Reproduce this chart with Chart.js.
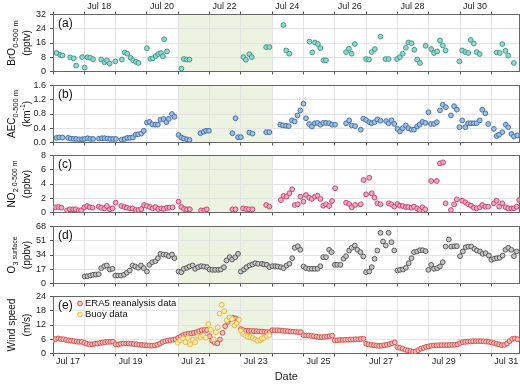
<!DOCTYPE html>
<html>
<head>
<meta charset="utf-8">
<title>Jul 17 - Jul 31 time series</title>
<script src="https://cdn.jsdelivr.net/npm/chart.js@4.4.1/dist/chart.umd.min.js"></script>
<style>
  body { margin: 0; background: #fff; }
  #wrap { position: relative; width: 520px; height: 384px; }
  #wrap canvas { position: absolute; left: 0; top: 0; }
</style>
</head>
<body>
<div id="wrap">
  <canvas id="panelA" width="520" height="384"></canvas>
  <canvas id="panelB" width="520" height="384"></canvas>
  <canvas id="panelC" width="520" height="384"></canvas>
  <canvas id="panelD" width="520" height="384"></canvas>
  <canvas id="panelE" width="520" height="384"></canvas>
</div>
<script>
// x axis: days since Jul 17 00:00, one tick per day
const dayLabels = ['Jul 17', 'Jul 18', 'Jul 19', 'Jul 20', 'Jul 21', 'Jul 22', 'Jul 23', 'Jul 24',
  'Jul 25', 'Jul 26', 'Jul 27', 'Jul 28', 'Jul 29', 'Jul 30', 'Jul 31'];
const dayTicks = [0, 1, 2, 3, 4, 5, 6, 7, 8, 9, 10, 11, 12, 13, 14];
const dayMax = 14.9;
const shadedDays = [4, 7]; // Jul 21 - Jul 24

const broTicks = [0, 8, 16, 24, 32];
const aecTicks = [0, 0.4, 0.8, 1.2, 1.6];
const no2Ticks = [0, 2, 4, 6, 8];
const o3Ticks = [0, 17, 34, 51, 68];
const windTicks = [0, 6, 12, 18, 24];

// [day, value]
const broData = [
  [0.11, 10.4], [0.23, 9.3], [0.30, 9.0], [0.55, 7.9], [0.66, 7.4], [0.74, 3.3], [0.93, 8.1], [1.01, 2.2],
  [1.10, 8.0], [1.19, 7.7], [1.28, 6.9], [1.54, 6.7], [1.64, 5.2], [1.72, 6.3], [1.81, 4.4], [1.99, 5.7],
  [2.20, 6.7], [2.29, 10.7], [2.37, 10.0], [2.48, 7.6], [2.56, 6.3], [2.65, 5.4], [2.73, 4.8], [3.00, 13.1],
  [3.11, 7.1], [3.19, 7.4], [3.28, 8.7], [3.36, 9.8], [3.45, 10.4], [3.51, 8.6], [3.55, 18.1], [3.64, 11.3],
  [4.10, 1.7], [4.18, 7.0], [4.28, 6.7], [4.36, 6.7], [6.08, 8.1], [6.16, 6.6], [6.27, 9.7], [6.35, 8.1],
  [6.81, 13.7], [6.91, 13.7], [7.36, 26.1], [7.45, 11.8], [7.55, 10.0], [8.19, 16.8], [8.28, 10.7], [8.37, 16.3],
  [8.46, 15.4], [8.54, 13.1], [8.64, 6.3], [8.72, 6.3], [9.36, 10.9], [9.45, 12.8], [9.54, 10.0], [9.64, 15.4],
  [10.00, 7.0], [10.09, 6.7], [10.18, 10.9], [10.28, 12.6], [10.46, 19.6], [10.62, 7.0], [10.72, 7.0], [10.99, 7.0],
  [11.08, 8.1], [11.17, 10.0], [11.27, 13.3], [11.35, 16.3], [11.45, 15.9], [11.54, 12.2], [11.63, 6.7], [11.72, 4.8],
  [11.90, 14.4], [12.08, 12.6], [12.17, 10.4], [12.27, 11.3], [12.36, 17.4], [12.45, 14.6], [12.54, 11.8], [12.98, 5.7],
  [13.07, 11.8], [13.17, 10.9], [13.26, 10.4], [13.34, 17.7], [13.44, 15.7], [13.53, 10.9], [13.63, 9.8], [14.17, 10.7],
  [14.27, 10.4], [14.35, 15.4], [14.45, 11.6], [14.54, 8.9], [14.72, 4.8]
];

const aecData = [
  [0.11, 0.13], [0.20, 0.14], [0.30, 0.14], [0.48, 0.13], [0.57, 0.11], [0.66, 0.10], [0.74, 0.10], [0.84, 0.09],
  [0.93, 0.09], [1.01, 0.10], [1.10, 0.12], [1.19, 0.10], [1.28, 0.10], [1.47, 0.11], [1.56, 0.12], [1.65, 0.12],
  [1.74, 0.11], [1.83, 0.10], [1.92, 0.10], [2.01, 0.10], [2.19, 0.08], [2.29, 0.10], [2.37, 0.13], [2.46, 0.13],
  [2.55, 0.14], [2.64, 0.22], [2.72, 0.23], [2.82, 0.25], [2.90, 0.33], [3.00, 0.56], [3.08, 0.58], [3.17, 0.51],
  [3.27, 0.50], [3.35, 0.50], [3.43, 0.64], [3.53, 0.66], [3.62, 0.57], [3.70, 0.66], [3.80, 0.80], [3.88, 0.72],
  [4.01, 0.21], [4.10, 0.14], [4.18, 0.11], [4.28, 0.09], [4.36, 0.07], [4.71, 0.26], [4.81, 0.30], [4.89, 0.33],
  [4.98, 0.33], [5.73, 0.26], [5.83, 0.68], [5.91, 0.15], [6.00, 0.15], [6.27, 0.28], [6.37, 0.25],
  [6.81, 0.29], [6.91, 0.29], [7.26, 0.50], [7.34, 0.48], [7.44, 0.47], [7.53, 0.46], [7.63, 0.62], [7.72, 0.59],
  [7.81, 0.76], [7.90, 0.90], [8.00, 1.09], [8.08, 0.68], [8.18, 0.52], [8.27, 0.45], [8.36, 0.54], [8.45, 0.55],
  [8.54, 0.50], [8.63, 0.55], [8.72, 0.55], [8.82, 0.54], [8.91, 0.50], [9.01, 0.50], [9.36, 0.54], [9.46, 0.62],
  [9.54, 0.48], [9.65, 0.46], [9.83, 0.36], [9.91, 0.67], [10.00, 0.63], [10.10, 0.57], [10.18, 0.54], [10.27, 0.57],
  [10.36, 0.65], [10.46, 0.61], [10.64, 0.60], [10.72, 0.54], [10.81, 0.62], [10.90, 0.52], [11.00, 0.38], [11.08, 0.31],
  [11.17, 0.40], [11.27, 0.48], [11.35, 0.40], [11.45, 0.36], [11.53, 0.36], [11.63, 0.45], [11.71, 0.50], [11.80, 0.58],
  [11.89, 0.55], [11.99, 0.85], [12.07, 0.52], [12.17, 0.52], [12.26, 0.57], [12.36, 0.90], [12.45, 1.06], [12.55, 0.99],
  [12.71, 0.76], [12.81, 1.02], [12.90, 0.92], [12.98, 0.43], [13.07, 0.62], [13.17, 0.43], [13.26, 0.54], [13.35, 0.54],
  [13.44, 0.54], [13.53, 0.54], [13.63, 0.62], [13.71, 0.92], [13.81, 0.82], [13.90, 0.52], [14.08, 0.38], [14.17, 0.18],
  [14.25, 0.22], [14.35, 0.29], [14.46, 0.50], [14.54, 0.43], [14.64, 0.24], [14.72, 0.17], [14.83, 0.20]
];

const no2Data = [
  [0.07, 0.73], [0.17, 0.77], [0.27, 0.67], [0.45, 0.30], [0.54, 0.45], [0.64, 0.45], [0.72, 0.45], [0.82, 0.30],
  [0.90, 0.30], [1.00, 0.73], [1.09, 0.91], [1.17, 0.73], [1.26, 0.67], [1.46, 0.82], [1.54, 0.67], [1.64, 0.58],
  [1.72, 0.91], [1.82, 0.45], [1.90, 0.58], [2.00, 1.38], [2.18, 0.91], [2.28, 0.77], [2.36, 0.67], [2.46, 0.58],
  [2.54, 0.58], [2.64, 0.35], [2.73, 0.35], [2.82, 0.49], [2.91, 1.05], [3.00, 0.91], [3.10, 0.77], [3.18, 0.58],
  [3.27, 0.77], [3.36, 0.49], [3.46, 0.58], [3.54, 0.49], [3.64, 0.67], [3.72, 0.67], [3.82, 0.73], [4.01, 1.52],
  [4.10, 0.77], [4.19, 0.49], [4.28, 0.45], [4.37, 0.45], [4.73, 0.30], [4.83, 0.30], [4.91, 0.45], [5.73, 0.45],
  [5.83, 0.45], [6.07, 0.58], [6.17, 0.49], [6.26, 0.45], [6.37, 0.45],
  [6.81, 1.05], [6.91, 0.82], [7.28, 1.75], [7.36, 2.32], [7.46, 2.22], [7.55, 2.70], [7.64, 3.26], [7.72, 1.05],
  [7.82, 1.15], [7.90, 2.22], [8.00, 1.52], [8.08, 2.46], [8.18, 2.08], [8.27, 1.90], [8.36, 2.22], [8.45, 2.36],
  [8.54, 1.90], [8.63, 0.95], [8.72, 1.15], [8.82, 0.91], [8.91, 1.61], [9.01, 3.40], [9.36, 1.38], [9.46, 1.19],
  [9.54, 0.73], [9.65, 1.05], [9.83, 1.15], [9.92, 4.56], [10.00, 2.55], [10.10, 4.88], [10.18, 2.70], [10.27, 2.08],
  [10.36, 1.29], [10.46, 1.15], [10.72, 1.29], [10.81, 1.15], [10.90, 0.82], [11.00, 1.19], [11.08, 0.95], [11.17, 0.91],
  [11.27, 0.77], [11.35, 0.77], [11.45, 0.67], [11.53, 0.82], [11.63, 0.58], [11.71, 0.35], [11.80, 0.73], [11.89, 0.45],
  [12.08, 4.42], [12.26, 4.42], [12.36, 6.90], [12.46, 7.04], [12.54, 1.29], [12.71, 0.35], [12.81, 1.15], [12.90, 1.85],
  [13.07, 1.66], [13.17, 1.43], [13.26, 1.15], [13.35, 0.95], [13.44, 0.67], [13.53, 0.58], [13.63, 0.73], [13.71, 1.05],
  [13.81, 0.82], [13.90, 0.82], [14.08, 1.29], [14.17, 1.66], [14.25, 0.82], [14.35, 1.29], [14.46, 0.73], [14.54, 0.58],
  [14.64, 0.58], [14.72, 0.58], [14.81, 0.82], [14.89, 1.75]
];

const o3Data = [
  [1.01, 8.4], [1.10, 8.7], [1.19, 9.5], [1.28, 10.4], [1.37, 10.7], [1.46, 11.1], [1.54, 18.3], [1.64, 20.7],
  [1.72, 21.5], [1.81, 16.7], [1.90, 17.5], [1.99, 9.5], [2.08, 9.5], [2.17, 9.5], [2.27, 10.4], [2.36, 12.8],
  [2.45, 15.5], [2.54, 21.5], [2.63, 20.3], [2.72, 18.7], [2.81, 21.5], [2.90, 18.3], [3.00, 14.3], [3.08, 22.3],
  [3.17, 25.4], [3.27, 26.6], [3.35, 30.2], [3.43, 35.4], [3.53, 34.6], [3.62, 34.2], [3.70, 32.6], [3.80, 34.6],
  [3.88, 30.2], [4.01, 14.3], [4.10, 13.5], [4.18, 17.5], [4.28, 18.7], [4.36, 20.3], [4.46, 21.5], [4.54, 17.5],
  [4.64, 19.5], [4.73, 20.7], [4.82, 20.3], [4.92, 19.5], [5.00, 16.7], [5.09, 16.3], [5.18, 16.3], [5.28, 16.3],
  [5.36, 16.7], [5.46, 19.5], [5.54, 27.4], [5.64, 31.4], [5.72, 28.6], [5.82, 31.4], [5.91, 35.4], [6.00, 14.3],
  [6.10, 16.7], [6.18, 19.5], [6.28, 21.5], [6.37, 22.7], [6.46, 24.2], [6.55, 23.5],
  [6.67, 23.5], [6.74, 22.7], [6.83, 22.3], [6.91, 19.5], [7.01, 20.7], [7.10, 20.7], [7.18, 20.3], [7.28, 19.5],
  [7.36, 18.3], [7.46, 21.5], [7.55, 23.5], [7.64, 30.2], [7.72, 42.6], [7.82, 44.5], [7.90, 40.2], [8.00, 20.3],
  [8.08, 18.3], [8.18, 17.5], [8.27, 17.5], [8.36, 17.5], [8.45, 17.5], [8.54, 20.7], [8.63, 31.4], [8.72, 31.4],
  [8.82, 40.2], [8.90, 37.4], [9.00, 22.3], [9.08, 22.3], [9.18, 22.3], [9.28, 29.5], [9.36, 32.6], [9.46, 39.4],
  [9.54, 42.6], [9.64, 45.3], [9.72, 40.2], [9.82, 37.4], [9.91, 32.2], [10.00, 13.5], [10.10, 14.3], [10.18, 19.5],
  [10.27, 29.5], [10.36, 39.4], [10.46, 60.5], [10.54, 50.1], [10.63, 45.3], [10.72, 60.5], [10.81, 49.3], [10.90, 39.4],
  [11.00, 15.5], [11.08, 16.3], [11.18, 16.7], [11.27, 18.7], [11.36, 24.2], [11.45, 30.2], [11.53, 37.4], [11.63, 38.2],
  [11.72, 39.7], [11.81, 39.7], [11.90, 38.6], [11.99, 16.3], [12.08, 22.3], [12.17, 17.5], [12.27, 18.3], [12.36, 20.3],
  [12.45, 25.4], [12.54, 44.1], [12.64, 52.5], [12.72, 44.1], [12.82, 44.5], [12.90, 44.5], [13.00, 32.6], [13.09, 38.2],
  [13.18, 43.3], [13.27, 44.1], [13.36, 44.1], [13.46, 41.4], [13.54, 39.4], [13.64, 38.2], [13.72, 35.4], [13.82, 36.2],
  [13.92, 33.4], [14.00, 28.3], [14.09, 29.5], [14.18, 30.2], [14.27, 30.7], [14.36, 33.4], [14.45, 40.2], [14.54, 42.6],
  [14.64, 40.2], [14.72, 32.6], [14.81, 38.2]
];

// ERA5 wind speed, every 2 h from Jul 17 00:00 (12 values per day)
const era5Wind = [
  5.6, 6.1, 6.3, 6.1, 6.0, 5.7, 5.5, 5.4, 5.2, 5.0, 4.9, 4.9,   // Jul 17
  4.5, 4.1, 3.9, 3.9, 4.1, 4.2, 4.4, 4.6, 4.8, 4.9, 4.9, 5.0,   // Jul 18
  3.9, 3.8, 4.1, 4.2, 4.2, 4.2, 4.1, 4.0, 3.9, 3.7, 3.6, 3.5,   // Jul 19
  3.4, 3.3, 3.3, 3.4, 3.7, 4.2, 4.8, 5.2, 5.4, 5.6, 5.8, 6.0,   // Jul 20
  6.6, 7.2, 7.8, 8.1, 8.3, 8.5, 8.7, 9.0, 9.4, 9.8, 9.9, 9.9,   // Jul 21
  7.3, 5.4, 4.5, 4.3, 5.9, 8.7, 11.5, 13.3, 14.5, 15.0, 14.8, 14.2, // Jul 22
  10.3, 9.8, 9.6, 9.5, 9.5, 9.4, 9.4, 9.3, 9.2, 9.1, 9.0, 9.0, // Jul 23
  9.8, 9.8, 9.8, 9.7, 9.6, 9.5, 9.4, 9.3, 9.2, 9.1, 9.0, 9.0,   // Jul 24
  7.7, 7.6, 7.6, 7.4, 7.3, 7.1, 6.9, 6.9, 7.0, 7.1, 7.3, 7.5,   // Jul 25
  5.5, 5.6, 5.7, 5.7, 5.8, 5.8, 5.9, 5.9, 6.0, 6.0, 6.1, 6.2,   // Jul 26
  4.1, 3.8, 3.6, 3.5, 3.3, 3.2, 3.3, 3.5, 3.7, 4.0, 4.3, 4.7,   // Jul 27
  2.6, 2.4, 2.0, 1.6, 1.3, 1.0, 0.8, 0.9, 1.4, 2.0, 2.4, 2.8,   // Jul 28
  3.0, 3.3, 3.4, 3.4, 3.5, 3.5, 3.5, 3.5, 3.6, 3.6, 3.7, 3.8,   // Jul 29
  4.4, 4.8, 4.9, 5.0, 5.1, 5.2, 5.2, 5.2, 5.2, 5.1, 5.0, 4.9,   // Jul 30
  4.7, 4.4, 4.1, 3.8, 3.5, 3.6, 4.2, 5.2, 6.1, 6.3, 6.0        // Jul 31
];
const era5Step = 1 / 12;

const buoyData = [
  [3.98, 4.5], [4.06, 5.5], [4.15, 6.3], [4.23, 4.8], [4.31, 6.6], [4.38, 3.9], [4.47, 5.8], [4.54, 4.8],
  [4.63, 7.3], [4.71, 6.9], [4.80, 7.6], [4.88, 6.6], [4.96, 12.4], [5.04, 10.0], [5.13, 6.0], [5.20, 9.0],
  [5.26, 11.0], [5.32, 16.8], [5.39, 20.5], [5.47, 17.8], [5.55, 14.0], [5.64, 15.2], [5.72, 14.5], [5.80, 11.8],
  [5.87, 12.8], [5.94, 14.2], [6.00, 9.6], [6.07, 8.3], [6.15, 7.6], [6.22, 7.1], [6.30, 6.9], [6.38, 6.5],
  [6.46, 5.9], [6.53, 5.4], [6.62, 5.6], [6.67, 6.3], [6.74, 6.6], [6.83, 7.3], [6.91, 7.7]
];

// layout
const FONT = "'Liberation Sans', Arial, Helvetica, sans-serif";
const AREA_LEFT = 53;
const AREA_RIGHT_GAP = 0.5;
const PANEL_H = 57;
const GRID = '#e3e3e3';
const AXIS = '#555';

Chart.defaults.font.family = FONT;
Chart.defaults.color = '#222';

const pairs = arr => arr.map(p => ({ x: p[0], y: p[1] }));

// axis title with sub/superscripts, written bottom to top
function drawRotated(ctx, parts, cx, cy) {
  let total = 0;
  parts.forEach(p => {
    ctx.font = p[1] + 'px ' + FONT;
    p.w = ctx.measureText(p[0]).width;
    total += p.w;
  });
  ctx.save();
  ctx.translate(cx, cy);
  ctx.rotate(-Math.PI / 2);
  ctx.textBaseline = 'middle';
  ctx.textAlign = 'left';
  let x = -total / 2;
  parts.forEach(p => {
    ctx.font = p[1] + 'px ' + FONT;
    ctx.fillText(p[0], x, p[2] || 0);
    x += p.w;
  });
  ctx.restore();
}

const decor = {
  id: 'decor',
  beforeDraw(chart) {
    const { ctx, chartArea: a, scales: { x } } = chart;
    const x0 = x.getPixelForValue(shadedDays[0]);
    const x1 = x.getPixelForValue(shadedDays[1]);
    ctx.save();
    ctx.fillStyle = '#edf3e1';
    ctx.fillRect(x0, a.top, x1 - x0, a.bottom - a.top);
    ctx.restore();
  },
  beforeDatasetsDraw(chart) {
    const { ctx, chartArea: a } = chart;
    ctx.save();
    ctx.strokeStyle = '#666';
    ctx.lineWidth = 1;
    ctx.strokeRect(a.left + 0.5, a.top, a.right - a.left - 0.5, a.bottom - a.top);
    ctx.restore();
  },
  afterDraw(chart, args, o) {
    const { ctx, chartArea: a } = chart;
    ctx.save();
    ctx.fillStyle = '#111';
    ctx.textBaseline = 'middle';
    ctx.textAlign = 'left';
    ctx.font = '12px ' + FONT;
    ctx.fillText(o.tag, a.left + 5, a.top + 9);
    const cy = (a.top + a.bottom) / 2;
    drawRotated(ctx, o.title[0], 12.5, cy);
    drawRotated(ctx, o.title[1], 27, cy);
    if (o.legend) {
      chart.data.datasets.forEach((ds, i) => {
        const ly = a.top + 7 + 11 * i;
        ctx.beginPath();
        ctx.arc(a.left + 27, ly, 2.4, 0, Math.PI * 2);
        ctx.fillStyle = ds.backgroundColor;
        ctx.fill();
        ctx.lineWidth = 1;
        ctx.strokeStyle = ds.borderColor;
        ctx.stroke();
        ctx.fillStyle = '#111';
        ctx.font = '9.5px ' + FONT;
        ctx.fillText(ds.label, a.left + 32, ly);
      });
    }
    ctx.restore();
  }
};

function xScale(position, showLabels, parity, height, onArea) {
  return {
    type: 'linear',
    axis: 'x',
    position: position,
    min: 0,
    max: dayMax,
    afterBuildTicks: s => { s.ticks = dayTicks.map(v => ({ value: v })); },
    afterFit: s => { s.height = height; },
    border: { display: false },
    grid: { color: GRID, tickColor: AXIS, tickLength: 3, drawOnChartArea: onArea },
    ticks: {
      display: showLabels,
      autoSkip: false,
      maxRotation: 0,
      padding: 0,
      labelOffset: 15,
      font: { size: 9 },
      color: '#222',
      callback: v => (v % 2 === parity ? dayLabels[v] : '')
    },
    title: {
      display: position === 'bottom' && showLabels,
      text: 'Date',
      font: { size: 11 },
      color: '#222',
      padding: { top: 0, bottom: 0 }
    }
  };
}

function yScale(ticks, fmt) {
  return {
    min: ticks[0],
    max: ticks[ticks.length - 1],
    afterBuildTicks: s => { s.ticks = ticks.map(v => ({ value: v })); },
    afterFit: s => { s.width = AREA_LEFT; },
    border: { display: false },
    grid: { color: GRID, tickColor: AXIS, tickLength: 3 },
    ticks: { autoSkip: false, font: { size: 9 }, color: '#222', padding: 4, callback: fmt || (v => v) }
  };
}

function dots(label, data, fill, stroke) {
  return {
    label: label,
    data: data,
    backgroundColor: fill,
    borderColor: stroke,
    pointRadius: 2.4,
    pointHoverRadius: 2.4,
    pointBorderWidth: 1
  };
}

function panel(id, top, datasets, yTicks, yFmt, decorOpts, bottomAxis) {
  const xh = bottomAxis ? 384 - top - PANEL_H : 0;
  const topAxis = id === 'panelA';
  const scales = {
    x: xScale('bottom', !!bottomAxis, 0, xh, true),
    y: yScale(yTicks, yFmt)
  };
  // the top date labels need a box of their own, otherwise they are clipped away
  if (topAxis) scales.xTop = xScale('top', true, 1, top, false);
  return new Chart(document.getElementById(id), {
    type: 'scatter',
    data: { datasets: datasets },
    options: {
      responsive: false,
      animation: false,
      events: [],
      layout: {
        autoPadding: false,
        padding: { top: topAxis ? 0 : top, bottom: 384 - top - PANEL_H - xh, left: 0, right: AREA_RIGHT_GAP }
      },
      scales: scales,
      plugins: { legend: { display: false }, tooltip: { enabled: false }, decor: decorOpts }
    },
    plugins: [decor]
  });
}

panel('panelA', 14.5,
  [dots('BrO', pairs(broData), '#93d8cb', '#3f9a8b')],
  broTicks, null,
  { tag: '(a)', title: [[['BrO', 10], ['0-500 m', 7.5, 3]], [['(pptv)', 10]]] });

panel('panelB', 85.5,
  [dots('AEC', pairs(aecData), '#9dbde2', '#4673a8')],
  aecTicks, v => v.toFixed(1),
  { tag: '(b)', title: [[['AEC', 10], ['0-500 m', 7.5, 3]], [['(km', 10], ['-1', 7, -4], [')', 10]]] });

panel('panelC', 155.5,
  [dots('NO2', pairs(no2Data), '#f5a9bf', '#c8466f')],
  no2Ticks, null,
  { tag: '(c)', title: [[['NO', 10], ['2', 8, 3], [' 0-500 m', 7, 3]], [['(ppbv)', 10]]] });

panel('panelD', 226.5,
  [dots('O3', pairs(o3Data), '#c6c6c6', '#5a5a5a')],
  o3Ticks, null,
  { tag: '(d)', title: [[['O', 10], ['3', 8, 3], [' surface', 7, 3]], [['(ppbv)', 10]]] });

const era5Dataset = dots('ERA5 reanalysis data', era5Wind.map((v, i) => ({ x: i * era5Step, y: v })), '#f7c2bf', '#d8504c');
era5Dataset.order = 1;
const buoyDataset = dots('Buoy data', pairs(buoyData), '#fff1bf', '#f0b43a');
buoyDataset.order = 0;

panel('panelE', 296.5,
  [era5Dataset, buoyDataset],
  windTicks, null,
  { tag: '(e)', title: [[['Wind speed', 10]], [['(m/s)', 10]]], legend: true },
  true);
</script>
</body>
</html>
